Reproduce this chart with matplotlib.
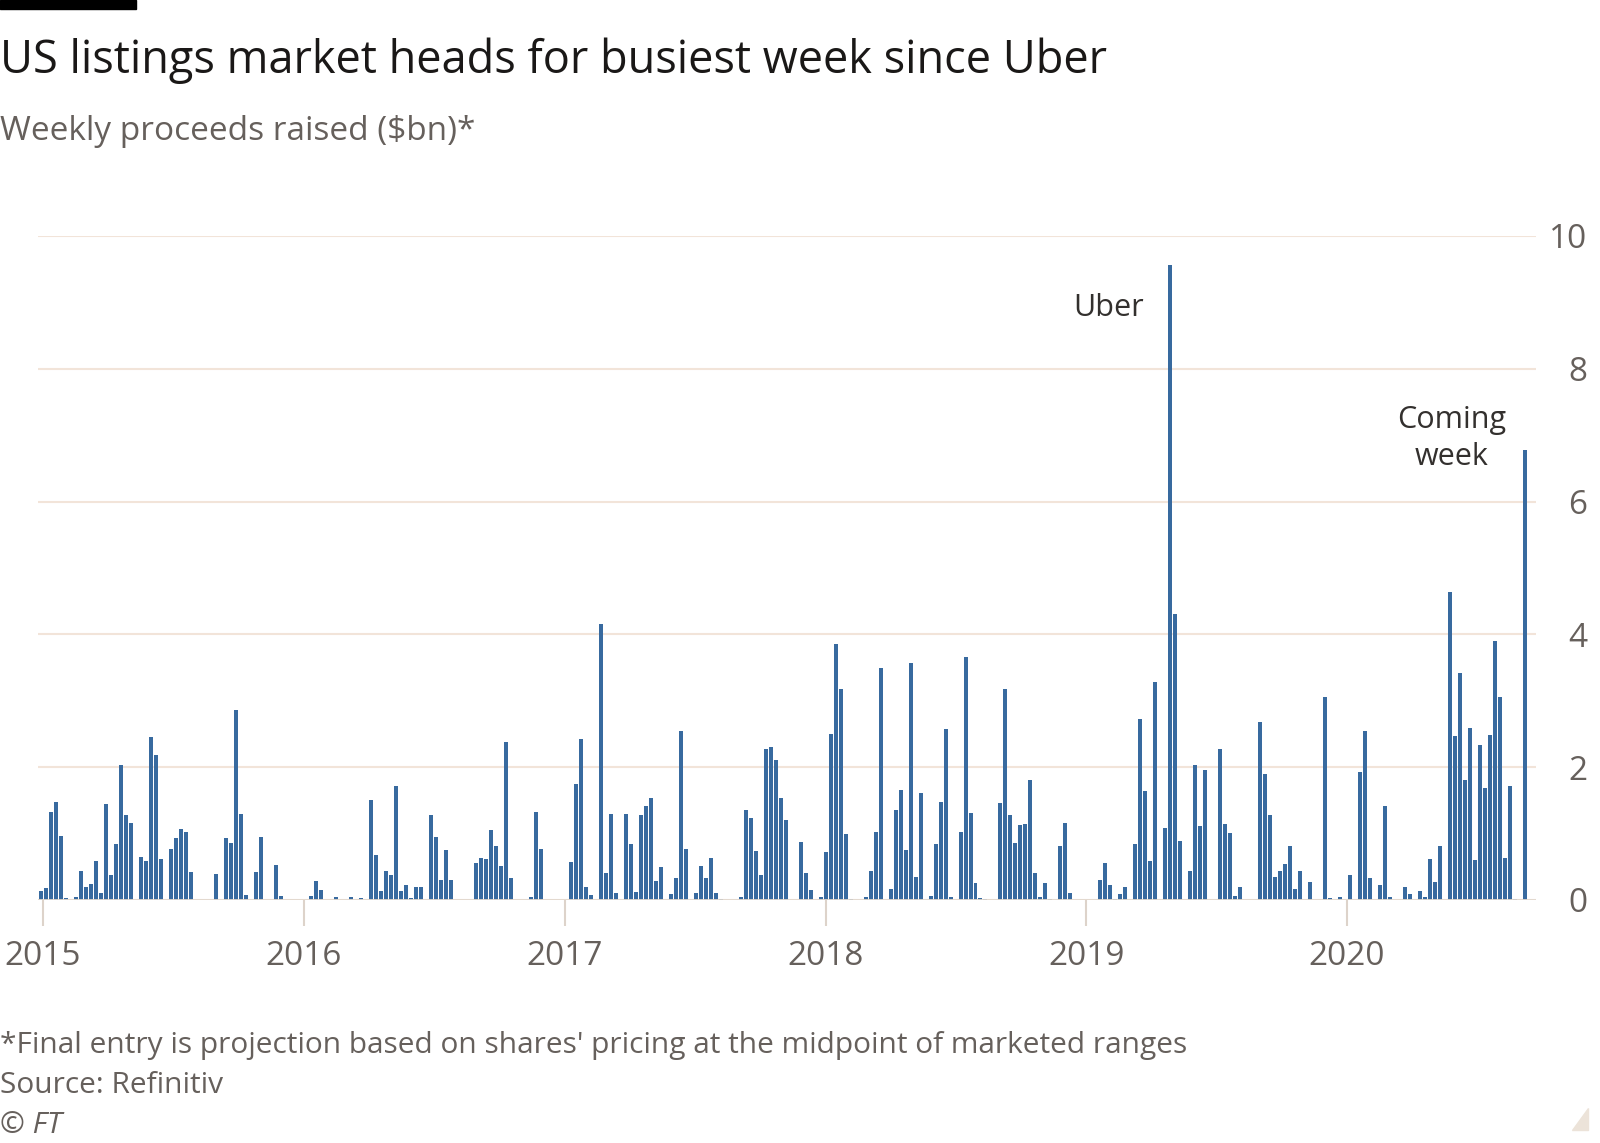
import numpy as np
import pandas as pd
import matplotlib
matplotlib.use('Agg')
import matplotlib.pyplot as plt
from matplotlib.patches import Rectangle, Polygon

# weekly proceeds ($bn), one value per week, zero = no listings
proceeds_2015 = [0.13, 0.18, 1.33, 1.48, 0.96, 0.03, 0, 0.05, 0.44, 0.20,
                 0.24, 0.58, 0.10, 1.44, 0.38, 0.85, 2.04, 1.28, 1.16, 0,
                 0.65, 0.58, 2.45, 2.19, 0.61, 0, 0.77, 0.94, 1.07, 1.03,
                 0.42, 0, 0, 0, 0, 0.39, 0, 0.93, 0.86, 2.86,
                 1.29, 0.08, 0, 0.42, 0.95, 0, 0, 0.52, 0.06, 0,
                 0, 0]
proceeds_2016 = [0, 0, 0.06, 0.28, 0.15, 0, 0, 0.04, 0, 0,
                 0.05, 0, 0.03, 0, 1.51, 0.68, 0.13, 0.44, 0.38, 1.72,
                 0.13, 0.23, 0.03, 0.20, 0.19, 0, 1.28, 0.95, 0.30, 0.75,
                 0.30, 0, 0, 0, 0, 0.55, 0.63, 0.62, 1.05, 0.82,
                 0.51, 2.38, 0.33, 0, 0, 0, 0.05, 1.32, 0.77, 0,
                 0, 0]
proceeds_2017 = [0, 0, 0.57, 1.75, 2.43, 0.19, 0.08, 0, 4.15, 0.41,
                 1.29, 0.11, 0, 1.30, 0.85, 0.12, 1.28, 1.41, 1.53, 0.28,
                 0.50, 0, 0.09, 0.33, 2.55, 0.77, 0, 0.11, 0.51, 0.33,
                 0.64, 0.11, 0.02, 0, 0, 0, 0.05, 1.36, 1.23, 0.74,
                 0.38, 2.28, 2.30, 2.11, 1.54, 1.20, 0, 0, 0.87, 0.41,
                 0.15, 0]
proceeds_2018 = [0.05, 0.72, 2.50, 3.85, 3.18, 1.00, 0.02, 0, 0, 0.05,
                 0.44, 1.02, 3.49, 0, 0.16, 1.36, 1.66, 0.75, 3.57, 0.34,
                 1.61, 0, 0.06, 0.85, 1.48, 2.58, 0.04, 0, 1.02, 3.66,
                 1.31, 0.26, 0.03, 0.02, 0, 0, 1.46, 3.18, 1.28, 0.86,
                 1.13, 1.14, 1.80, 0.41, 0.05, 0.26, 0.02, 0, 0.82, 1.16,
                 0.10, 0]
proceeds_2019 = [0, 0, 0, 0, 0.30, 0.56, 0.23, 0.02, 0.09, 0.19,
                 0, 0.84, 2.73, 1.64, 0.58, 3.28, 0, 1.08, 9.57, 4.30,
                 0.89, 0, 0.44, 2.04, 1.11, 1.96, 0, 0, 2.28, 1.14,
                 1.01, 0.06, 0.19, 0, 0, 0, 2.68, 1.90, 1.28, 0.34,
                 0.44, 0.54, 0.82, 0.17, 0.43, 0, 0.27, 0, 0, 3.06,
                 0.03, 0]
proceeds_2020 = [0.04, 0, 0.37, 0, 1.93, 2.54, 0.33, 0, 0.23, 1.42,
                 0.05, 0, 0, 0.19, 0.09, 0, 0.13, 0.04, 0.61, 0.27,
                 0.81, 0, 4.64, 2.47, 3.42, 1.81, 2.59, 0.60, 2.33, 1.68,
                 2.48, 3.90, 3.06, 0.63, 1.71, 0.02, 0, 6.77]

first_week = '2014-12-29'
y_ticks = [0, 2, 4, 6, 8, 10]
year_ticks = ['2015', '2016', '2017', '2018', '2019', '2020']

values = np.array(proceeds_2015 + proceeds_2016 + proceeds_2017 +
                  proceeds_2018 + proceeds_2019 + proceeds_2020)
weeks = pd.date_range(first_week, periods=len(values), freq='7D')

BLUE = '#386a9f'
GREY = '#66605c'
GRID = '#f2e4d9'
FONT = 'Open Sans'

W, H = 1600, 1143
fig = plt.figure(figsize=(W / 100, H / 100), dpi=100)
fig.patch.set_facecolor('white')

ax_left, ax_right = 38, 1536
ax_top, ax_bottom = 236, 900
ax = fig.add_axes([ax_left / W, 1 - ax_bottom / H,
                   (ax_right - ax_left) / W, (ax_bottom - ax_top) / H])

ax.bar(weeks, values, width=5.6, color=BLUE, edgecolor='none', zorder=3)

ax.set_ylim(0, 10)
ax.set_xlim(weeks[0] - pd.Timedelta(days=4), weeks[-1] + pd.Timedelta(days=15))

for s in ax.spines.values():
    s.set_visible(False)
ax.axhline(0, color='#e2d8ce', lw=2, zorder=4)

ax.yaxis.tick_right()
ax.set_yticks(y_ticks)
ax.set_yticklabels([str(t) for t in y_ticks])
ax.tick_params(axis='y', length=0, pad=37, labelsize=24, labelcolor=GREY)
for lab in ax.get_yticklabels():
    lab.set_horizontalalignment('right')
    lab.set_fontfamily(FONT)
ax.grid(axis='y', color=GRID, lw=1.5, zorder=0)

ax.set_xticks([pd.Timestamp(y + '-01-01') for y in year_ticks])
ax.set_xticklabels(year_ticks)
ax.tick_params(axis='x', length=19, width=1.5, color='#ddd3ca', pad=10,
               labelsize=24, labelcolor=GREY)
for lab in ax.get_xticklabels():
    lab.set_fontfamily(FONT)

# annotations
i_uber = int(np.argmax(values))
ax.annotate('Uber', xy=(weeks[i_uber], values[i_uber]), xytext=(-27, -43),
            textcoords='offset pixels', ha='right', va='center',
            fontsize=22, color='#33302e', family=FONT)
ax.annotate('Coming\nweek', xy=(weeks[-1], values[-1]), xytext=(-74, 12),
            textcoords='offset pixels', ha='center', va='center',
            fontsize=22, color='#33302e', family=FONT, linespacing=1.3)

# titles and notes
fig.text(0 / W, 1 - 73 / H, 'US listings market heads for busiest week since Uber',
         fontsize=32.5, color='#1a1817', family=FONT, va='baseline')
fig.text(0 / W, 1 - 140 / H, 'Weekly proceeds raised ($bn)*',
         fontsize=24, color=GREY, family=FONT, va='baseline')
fig.text(0 / W, 1 - 1053 / H,
         "*Final entry is projection based on shares' pricing at the midpoint of marketed ranges",
         fontsize=21.5, color=GREY, family=FONT, va='baseline')
fig.text(0 / W, 1 - 1093 / H, 'Source: Refinitiv',
         fontsize=21.5, color=GREY, family=FONT, va='baseline')
fig.text(0 / W, 1 - 1133 / H, '\u00a9 FT', fontsize=21.5, color=GREY,
         family=FONT, style='italic', va='baseline')

# FT top bar and corner mark
fig.patches.append(Rectangle((0, 1 - 9 / H), 136 / W, 9 / H, transform=fig.transFigure,
                             color='black', figure=fig))
fig.patches.append(Polygon([(1588 / W, 1 - 1108 / H), (1588 / W, 1 - 1130 / H),
                            (1572 / W, 1 - 1130 / H)], closed=True,
                           transform=fig.transFigure, color='#ece3d9', figure=fig))

fig.savefig('out.png', dpi=100, facecolor='white')
